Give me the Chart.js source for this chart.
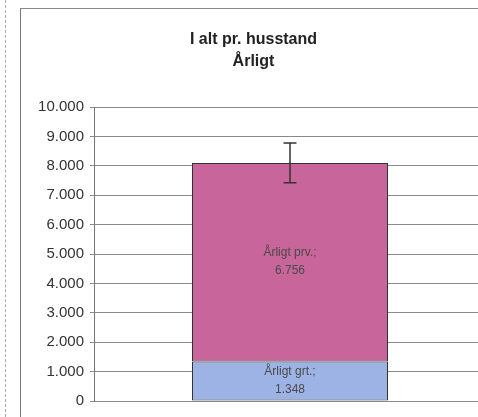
<!DOCTYPE html>
<html>
<head>
<meta charset="utf-8">
<script src="https://cdn.jsdelivr.net/npm/chart.js@4.4.0/dist/chart.umd.min.js"></script>
<style>
  html, body { margin:0; padding:0; background:#fff; width:478px; height:417px; overflow:hidden; }
  #edge { position:absolute; left:5px; top:0; width:0; height:417px; border-left:1px dashed #aaa; }
  #frame { position:absolute; left:20px; top:8px; width:466px; height:409px; border-left:1px solid #777; border-top:1px solid #888; box-sizing:border-box; }
  #c { position:absolute; left:0; top:0; }
</style>
</head>
<body>
<div id="edge"></div>
<div id="frame"><canvas id="c" width="465" height="408"></canvas></div>
<script>
const categories = [''];
const seriesNames = ['Årligt grt.', 'Årligt prv.'];
const grtValues = [1348];
const prvValues = [6756];
const errorLow = [7430];
const errorHigh = [8780];
const titleLines = ['I alt pr. husstand', 'Årligt'];
const yTicks = [0,1000,2000,3000,4000,5000,6000,7000,8000,9000,10000];

function fmt(v){ return String(v).replace(/\B(?=(\d{3})+(?!\d))/g, '.'); }

const segLabels = {
  id:'segLabels',
  afterDatasetsDraw(chart){
    const ctx = chart.ctx;
    ctx.save();
    ctx.font = '12px Arial, "Liberation Sans", sans-serif';
    ctx.fillStyle = '#4a4a4a';
    ctx.textAlign = 'center';
    ctx.textBaseline = 'middle';
    chart.data.datasets.forEach((ds, di) => {
      const meta = chart.getDatasetMeta(di);
      meta.data.forEach((bar, i) => {
        const cy = (bar.y + bar.base) / 2;
        ctx.fillText(ds.label + ';', bar.x, cy - 9);
        ctx.fillText(fmt(ds.data[i]), bar.x, cy + 9);
      });
    });
    ctx.restore();
  }
};

const errBars = {
  id:'errBars',
  afterDatasetsDraw(chart){
    const ctx = chart.ctx;
    const y = chart.scales.y;
    const meta = chart.getDatasetMeta(1);
    ctx.save();
    ctx.strokeStyle = '#333';
    ctx.lineWidth = 1.5;
    meta.data.forEach((bar, i) => {
      const x = bar.x;
      const t = y.getPixelForValue(errorHigh[i]);
      const b = y.getPixelForValue(errorLow[i]);
      ctx.beginPath();
      ctx.moveTo(x, t); ctx.lineTo(x, b);
      ctx.moveTo(x - 6.5, t); ctx.lineTo(x + 6.5, t);
      ctx.moveTo(x - 6.5, b); ctx.lineTo(x + 6.5, b);
      ctx.stroke();
    });
    ctx.restore();
  }
};

new Chart(document.getElementById('c'), {
  type:'bar',
  data:{
    labels: categories,
    datasets:[
      { label: seriesNames[0], data: grtValues, backgroundColor:'#9DB3E6', borderColor:'#333', borderWidth:1, borderSkipped:false },
      { label: seriesNames[1], data: prvValues, backgroundColor:'#C8659A', borderColor:'#333', borderWidth:1, borderSkipped:false }
    ]
  },
  options:{
    responsive:false,
    animation:false,
    layout:{ padding:{ left:0, right:0, top:0, bottom:16 } },
    datasets:{ bar:{ barPercentage:0.5, categoryPercentage:1 } },
    plugins:{
      legend:{ display:false },
      tooltip:{ enabled:false },
      title:{
        display:true,
        text: titleLines,
        color:'#222',
        font:{ family:'Arial, "Liberation Sans", sans-serif', size:16, weight:'bold', lineHeight:1.35 },
        padding:{ top:20, bottom:35 }
      }
    },
    scales:{
      x:{ stacked:true, display:false },
      y:{
        stacked:true,
        min:0, max:10000,
        afterBuildTicks(s){ s.ticks = yTicks.map(v => ({ value:v })); },
        afterFit(s){ s.width = 73; },
        ticks:{ color:'#333', padding:6, font:{ family:'Arial, "Liberation Sans", sans-serif', size:15 }, callback:(v)=>fmt(v) },
        grid:{ color:'#8a8a8a', lineWidth:1, tickLength:4, drawTicks:true },
        border:{ color:'#777', width:1 }
      }
    }
  },
  plugins:[segLabels, errBars]
});
</script>
</body>
</html>
